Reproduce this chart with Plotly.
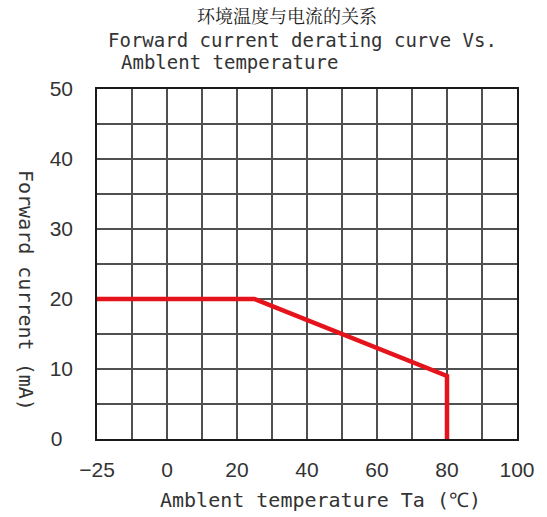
import plotly.graph_objects as go

# Data
temp_x = [-20, 25, 80, 80]          # left edge (labelled -25), knee, end
current_y = [20, 20, 9, 0]

x_tick_vals = [-20, 0, 20, 40, 60, 80, 100]
x_tick_text = ["\u221225", "0", "20", "40", "60", "80", "100"]
x_minor_vals = [-10, 10, 30, 50, 70, 90]
y_tick_vals = [0, 10, 20, 30, 40, 50]
y_tick_text = ["0\u2002", "10", "20", "30", "40", "50"]
y_minor_vals = [5, 15, 25, 35, 45]

title_cn = "环境温度与电流的关系"
title_en1 = "Forward current derating curve Vs."
title_en2 = "Amblent temperature"
x_title = "Amblent temperature Ta (\u2103)"
y_title = "Forward current (mA)"

MONO = "DejaVu Sans Mono"
NUM = "Liberation Sans"
TXT = "#333333"
GRID = "#505050"

fig = go.Figure()
fig.add_trace(go.Scatter(x=temp_x, y=current_y, mode="lines",
                         line=dict(color="#e5131b", width=4.5),
                         hoverinfo="skip", showlegend=False))

fig.update_layout(
    width=547, height=517,
    margin=dict(l=97, r=30, t=89, b=78),
    paper_bgcolor="white", plot_bgcolor="white",
    font=dict(family=NUM, color=TXT, size=21),
    xaxis=dict(range=[-20, 100], tickvals=x_tick_vals, ticktext=x_tick_text,
               showgrid=True, gridcolor=GRID, gridwidth=1.5,
               minor=dict(tickvals=x_minor_vals, showgrid=True, gridcolor=GRID, gridwidth=1.5),
               showline=True, linecolor="#1a1a1a", linewidth=1.5, mirror=True,
               ticks="outside", ticklen=11, tickcolor="rgba(0,0,0,0)",
               zeroline=False, tickfont=dict(size=21, color=TXT, family=NUM)),
    yaxis=dict(range=[0, 50], tickvals=y_tick_vals, ticktext=y_tick_text,
               showgrid=True, gridcolor=GRID, gridwidth=1.5,
               minor=dict(tickvals=y_minor_vals, showgrid=True, gridcolor=GRID, gridwidth=1.5),
               showline=True, linecolor="#1a1a1a", linewidth=1.5, mirror=True,
               ticks="outside", ticklen=18, tickcolor="rgba(0,0,0,0)",
               zeroline=False, tickfont=dict(size=21, color=TXT, family=NUM)),
)

def px_x(p):
    return (p - 97) / 420.0

def px_y(p):
    return (439 - p) / 350.0

fig.add_annotation(text=title_cn, x=px_x(287), y=px_y(15), xref="paper", yref="paper",
                   xanchor="center", yanchor="middle", showarrow=False,
                   font=dict(family="Noto Serif CJK SC, Noto Sans CJK SC", size=18, color="#222222"))
fig.add_annotation(text=title_en1, x=px_x(106), y=px_y(40), xref="paper", yref="paper",
                   xanchor="left", yanchor="middle", showarrow=False,
                   font=dict(family=MONO, size=19, color=TXT))
fig.add_annotation(text=title_en2, x=px_x(119), y=px_y(62), xref="paper", yref="paper",
                   xanchor="left", yanchor="middle", showarrow=False,
                   font=dict(family=MONO, size=19, color=TXT))
fig.add_annotation(text=x_title, x=px_x(320), y=px_y(500), xref="paper", yref="paper",
                   xanchor="center", yanchor="middle", showarrow=False,
                   font=dict(family=MONO, size=20, color=TXT))
fig.add_annotation(text=y_title, x=px_x(26), y=px_y(290), xref="paper", yref="paper",
                   xanchor="center", yanchor="middle", showarrow=False, textangle=90,
                   font=dict(family=MONO, size=20, color=TXT))

fig.write_html("out.html", config={"displayModeBar": False},
               post_script="document.body.style.margin='0';")
